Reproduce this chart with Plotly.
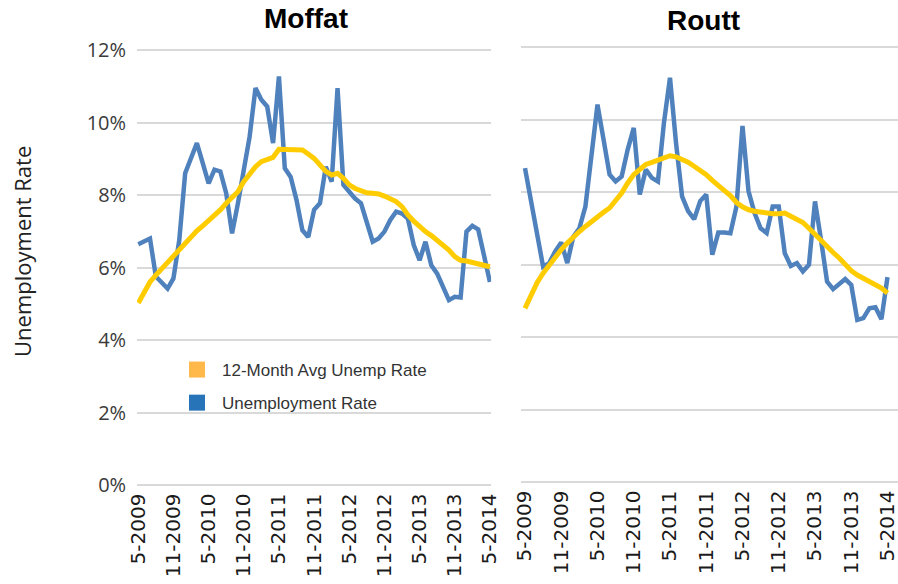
import plotly.graph_objects as go

# ---------------- data ----------------
month_index = list(range(61))  # monthly, May 2009 .. May 2014
tick_positions = [0, 6, 12, 18, 24, 30, 36, 42, 48, 54, 60]
tick_labels = ["5-2009", "11-2009", "5-2010", "11-2010", "5-2011", "11-2011",
               "5-2012", "11-2012", "5-2013", "11-2013", "5-2014"]
y_ticks = [0, 2, 4, 6, 8, 10, 12]
y_tick_labels = ["0%", "2%", "4%", "6%", "8%", "10%", "12%"]

moffat_rate = [6.64, 6.71, 6.80, 5.75, 5.58, 5.42, 5.70, 6.76, 8.60, 9.00,
               9.43, 8.88, 8.32, 8.70, 8.65, 8.05, 6.94, 7.77, 8.69, 9.61,
               10.95, 10.63, 10.44, 9.43, 11.27, 8.74, 8.50, 7.86, 7.03, 6.84,
               7.59, 7.77, 8.78, 8.37, 10.95, 8.28, 8.09, 7.90, 7.77, 7.22,
               6.71, 6.80, 6.99, 7.31, 7.54, 7.49, 7.35, 6.62, 6.20, 6.71,
               6.06, 5.83, 5.47, 5.10, 5.19, 5.17, 6.99, 7.15, 7.05, 6.30, 5.60]
moffat_avg = [5.02, 5.33, 5.60, 5.79, 5.97, 6.13, 6.30, 6.48, 6.66, 6.83,
              7.01, 7.15, 7.29, 7.45, 7.59, 7.77, 7.91, 8.09, 8.37, 8.60,
              8.78, 8.92, 8.99, 9.04, 9.26, 9.26, 9.24, 9.24, 9.24, 9.13,
              9.01, 8.83, 8.65, 8.55, 8.60, 8.46, 8.28, 8.18, 8.12, 8.06,
              8.05, 8.03, 7.97, 7.91, 7.82, 7.68, 7.45, 7.28, 7.12, 6.99,
              6.88, 6.76, 6.64, 6.48, 6.30, 6.20, 6.18, 6.14, 6.11, 6.07, 6.02]
routt_rate = [8.66, 7.79, 6.87, 5.94, 6.04, 6.36, 6.61, 6.04, 6.77, 7.00,
              7.60, 8.89, 10.41, 9.45, 8.48, 8.29, 8.43, 9.17, 9.77, 7.93,
              8.62, 8.39, 8.29, 9.91, 11.15, 9.35, 7.88, 7.47, 7.25, 7.75,
              7.93, 6.27, 6.88, 6.88, 6.86, 7.60, 9.82, 8.02, 7.42, 7.00,
              6.87, 7.60, 7.60, 6.31, 5.96, 6.04, 5.81, 5.99, 7.74, 6.68,
              5.53, 5.32, 5.48, 5.60, 5.44, 4.47, 4.52, 4.79, 4.82, 4.49, 5.65]
routt_avg = [4.79, 5.16, 5.50, 5.76, 5.99, 6.20, 6.41, 6.59, 6.76, 6.91,
             7.05, 7.19, 7.33, 7.44, 7.56, 7.74, 7.97, 8.25, 8.48, 8.62,
             8.76, 8.82, 8.88, 8.96, 9.00, 8.97, 8.91, 8.82, 8.71, 8.60,
             8.48, 8.32, 8.16, 8.04, 7.90, 7.71, 7.59, 7.51, 7.47, 7.44,
             7.42, 7.40, 7.40, 7.42, 7.33, 7.25, 7.16, 7.00, 6.82, 6.64,
             6.48, 6.33, 6.18, 5.99, 5.83, 5.71, 5.62, 5.55, 5.47, 5.35, 5.21]

panel_titles = ["Moffat", "Routt"]
y_title = "Unemployment Rate"
rate_name = "Unemployment Rate"
avg_name = "12-Month Avg Unemp Rate"

# ---------------- style ----------------
BLUE = "#4F81BD"
YELLOW = "#FFCC00"
GRID = "#D9D9D9"
W, H = 898, 584

fig = go.Figure()

for rate, avg, xa, ya in [(moffat_rate, moffat_avg, "x", "y"),
                          (routt_rate, routt_avg, "x2", "y2")]:
    fig.add_trace(go.Scatter(x=month_index, y=rate, mode="lines",
                             line=dict(color=BLUE, width=4.5), xaxis=xa, yaxis=ya,
                             showlegend=False, hoverinfo="skip"))
    fig.add_trace(go.Scatter(x=month_index, y=avg, mode="lines",
                             line=dict(color=YELLOW, width=5), xaxis=xa, yaxis=ya,
                             showlegend=False, hoverinfo="skip"))

# legend entries (square swatches)
fig.add_trace(go.Scatter(x=[None], y=[None], mode="markers", name=avg_name,
                         marker=dict(symbol="square", size=16, color="#FFB94A"),
                         legendgroup="a"))
fig.add_trace(go.Scatter(x=[None], y=[None], mode="markers", name=rate_name,
                         marker=dict(symbol="square", size=16, color="#2874B8"),
                         legendgroup="b"))

def px_x(p):
    return p / W

def px_y(p):
    return (H - p) / H

yr = [-0.1, 12.1]
def ydom(y0px, y12px):
    per = (y0px - y12px) / 12.0
    bottom = y0px + 0.1 * per
    top = y12px - 0.1 * per
    return [px_y(bottom), px_y(top)]

xaxis_common = dict(showgrid=False, zeroline=False, showline=False, ticks="",
                    automargin=False, ticklabeloverflow="allow",
                    tickmode="array", tickvals=tick_positions, ticktext=tick_labels,
                    tickangle=-90,
                    tickfont=dict(family="DejaVu Sans", size=20, color="#1a1a1a"))
yaxis_common = dict(range=yr, showgrid=True, gridcolor=GRID, gridwidth=2,
                    zeroline=False, showline=False, ticks="", automargin=False,
                    tickmode="array", tickvals=y_ticks, ticktext=y_tick_labels)

fig.update_layout(
    width=W, height=H,
    margin=dict(l=0, r=0, t=0, b=0, autoexpand=False),
    paper_bgcolor="white", plot_bgcolor="white",
    xaxis=dict(domain=[px_x(137.1), px_x(491.1)], range=[-0.2, 60.2],
               anchor="y", **xaxis_common),
    xaxis2=dict(domain=[px_x(521), px_x(898)], range=[-0.66, 61.74],
                anchor="y2", **xaxis_common),
    yaxis=dict(domain=ydom(485, 50), anchor="x", ticklabelstandoff=10,
               tickfont=dict(family="Open Sans", size=20, color="#3a3a3a"),
               **yaxis_common),
    yaxis2=dict(domain=ydom(482, 47), anchor="x2", showticklabels=False,
                **yaxis_common),
    legend=dict(x=px_x(172), y=px_y(352), xanchor="left", yanchor="top",
                itemwidth=40,
                bgcolor="rgba(0,0,0,0)", traceorder="grouped", tracegroupgap=8,
                font=dict(family="Liberation Sans", size=17, color="#333")),
    showlegend=True,
)

fig.add_annotation(text=y_title, x=px_x(22), y=px_y(252), textangle=-90,
                   xanchor="center", yanchor="middle",
                   xref="paper", yref="paper", showarrow=False,
                   font=dict(family="Open Sans", size=22, color="#222"))
fig.add_annotation(text="<b>" + panel_titles[0] + "</b>", x=px_x(306), y=px_y(19),
                   xanchor="center", yanchor="middle",
                   xref="paper", yref="paper", showarrow=False,
                   font=dict(family="Liberation Sans Narrow, Arial Narrow, Liberation Sans",
                             size=28, color="black"))
fig.add_annotation(text="<b>" + panel_titles[1] + "</b>", x=px_x(703), y=px_y(21),
                   xanchor="center", yanchor="middle",
                   xref="paper", yref="paper", showarrow=False,
                   font=dict(family="Liberation Sans Narrow, Arial Narrow, Liberation Sans",
                             size=28, color="black"))

fig.write_html("out.html", config={"displayModeBar": False},
               post_script="document.body.style.margin='0px';")
